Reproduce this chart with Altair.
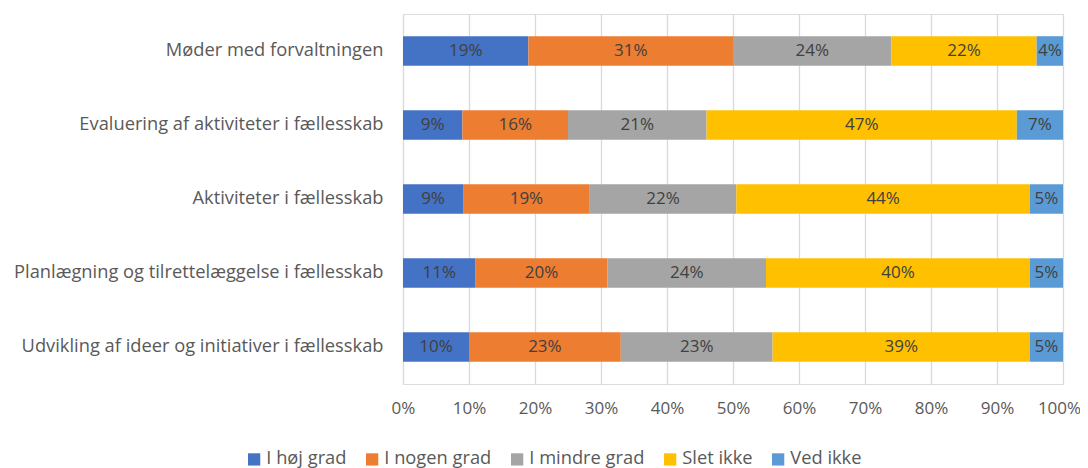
import altair as alt
import pandas as pd

categories = [
    "Møder med forvaltningen",
    "Evaluering af aktiviteter i fællesskab",
    "Aktiviteter i fællesskab",
    "Planlægning og tilrettelæggelse i fællesskab",
    "Udvikling af ideer og initiativer i fællesskab",
]
series = ["I høj grad", "I nogen grad", "I mindre grad", "Slet ikke", "Ved ikke"]
colors = ["#4472C4", "#ED7D31", "#A5A5A5", "#FFC000", "#5B9BD5"]

# shares (%) per series, one value per category
hoj = [19, 9, 9.1, 11, 10]
nogen = [31, 16, 19.2, 20, 23]
mindre = [24, 21, 22.2, 24, 23]
slet = [22, 47, 44.5, 40, 39]
ved = [4, 7, 5.0, 5, 5]

values = [hoj, nogen, mindre, slet, ved]
rows = []
for ci, cat in enumerate(categories):
    start = 0.0
    for si, s in enumerate(series):
        v = values[si][ci]
        rows.append({
            "cat": cat, "series": s, "order": si,
            "start": start / 100, "end": (start + v) / 100,
            "mid": (start + v / 2) / 100,
            "label": f"{round(v)}%",
        })
        start += v
df = pd.DataFrame(rows)

FONT = "Open Sans"
FS = 18.3
TXT = "#595959"

y = alt.Y("cat:N", sort=categories, title=None,
          scale=alt.Scale(paddingInner=0.6, paddingOuter=0.3),
          axis=alt.Axis(ticks=False, domain=False, labelFontSize=FS, labelFont=FONT,
                        labelColor=TXT, labelPadding=20, labelLimit=500))

bars = alt.Chart(df).mark_bar(opacity=1).encode(
    x=alt.X("start:Q", title=None,
            scale=alt.Scale(domain=[0, 1], nice=False),
            axis=alt.Axis(format="%", values=[i / 10 for i in range(11)], ticks=False,
                          domain=False, labelFontSize=17, labelFont=FONT, labelColor=TXT,
                          labelPadding=16, labelFlush=False,
                          labelOffset={"condition": {"test": "datum.value >= 1", "value": -4},
                                       "value": 0},
                          gridColor="#D9D9D9", gridWidth=1.3)),
    x2="end:Q",
    y=y,
    color=alt.Color("series:N", sort=series,
                    scale=alt.Scale(domain=series, range=colors),
                    legend=alt.Legend(title=None, orient="none", direction="horizontal",
                                      legendX=-158, legendY=436, symbolType="square",
                                      symbolSize=150, symbolStrokeWidth=0,
                                      labelFontSize=FS, labelFont=FONT, labelColor=TXT,
                                      columnPadding=16, labelOffset=3)),
)

text = alt.Chart(df).mark_text(font=FONT, fontSize=17, color="#404040").encode(
    x="mid:Q",
    y=alt.Y("cat:N", sort=categories),
    text="label:N",
)

chart = (bars + text).properties(
    width=660, height=370,
    autosize=alt.AutoSizeParams(type="none"),
    padding={"left": 395, "top": 6, "right": 17, "bottom": 84},
).configure_view(stroke=None).configure(background="white")

chart.save("out.html", embed_options={"renderer": "svg", "actions": False})
